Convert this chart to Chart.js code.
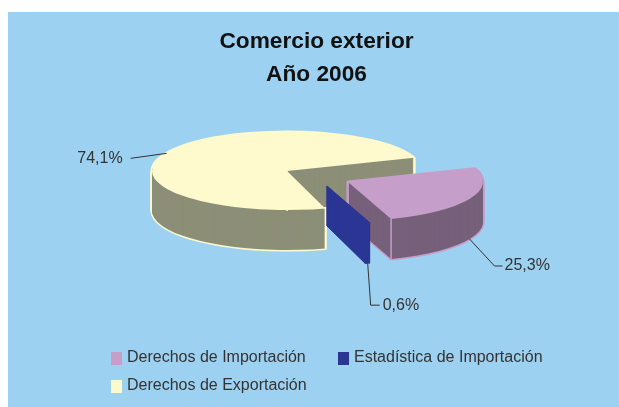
<!DOCTYPE html>
<html><head><meta charset="utf-8">
<style>html,body{margin:0;padding:0;background:#fff}canvas{display:block}</style>
<script src="https://cdn.jsdelivr.net/npm/chart.js@4"></script>
</head><body>
<canvas id="c" width="619" height="407"></canvas>
<script>
const titleLines = ['Comercio exterior', 'Año 2006'];
const categories = ['Derechos de Importación', 'Estadística de Importación', 'Derechos de Exportación'];
const shares = [25.3, 0.6, 74.1];
const shareLabels = ['25,3%', '0,6%', '74,1%'];
const topColors = ['#C59FC9', '#2B3594', '#FFFACD'];
const sideColors = ['#76607A', '#2B3594', '#8C8F77'];

const FONT = '"Liberation Sans", Arial, sans-serif';
const TEXT = '#333333';
const PIE = {cx: 287, cy: 171, rx: 135, ry: 39, depth: 40};
// per-slice draw settings, same order as categories
const shift = [{x: 61, y: 11}, {x: 40, y: 15}, {x: 0, y: 0}];
const drawOrder = [2, 0, 1];
const edgeColors = ['#C59FC9', '#2B3594', '#FFFACD'];
const edgeWidths = [3, 1, 3];
const leaders = [
  {down: true, elbow: [25, 27], run: 8, textGap: 2},
  {down: true, elbow: [3, 42], run: 9, textGap: 3},
  {down: false, elbow: [-36, 5], run: 0, textGap: 8}
];
const legendSlots = [{x: 111, y: 352}, {x: 338, y: 352}, {x: 111, y: 380}];

const pie3d = {
  id: 'pie3d',
  beforeDraw(chart) {
    const {ctx, width, height} = chart;
    ctx.save();
    ctx.fillStyle = '#9DD1F1';
    ctx.fillRect(8, 12, width - 8, height - 12);
    ctx.restore();
  },
  beforeDatasetsDraw(chart) {
    const {ctx} = chart;
    const arcs = chart.getDatasetMeta(0).data;
    const project = (arc, i, d) => {
      const sx = PIE.rx / arc.outerRadius, sy = PIE.ry / arc.outerRadius;
      ctx.setTransform(sx, 0, 0, sy,
        PIE.cx + shift[i].x - arc.x * sx,
        PIE.cy + shift[i].y + d - arc.y * sy);
    };
    const tracePath = (arc) => {
      ctx.beginPath();
      ctx.moveTo(arc.x, arc.y);
      ctx.arc(arc.x, arc.y, arc.outerRadius, arc.startAngle, arc.endAngle);
      ctx.closePath();
    };
    const rim = (arc, i, angle, d) => ({
      x: PIE.cx + shift[i].x + Math.cos(angle) * PIE.rx,
      y: PIE.cy + shift[i].y + Math.sin(angle) * PIE.ry + d
    });
    drawOrder.forEach((i) => {
      const arc = arcs[i];
      ctx.save();
      for (let d = PIE.depth; d >= 0; d--) {
        project(arc, i, d);
        tracePath(arc);
        ctx.setTransform(1, 0, 0, 1, 0, 0);
        ctx.strokeStyle = edgeColors[i];
        ctx.lineWidth = edgeWidths[i];
        ctx.lineJoin = 'round';
        ctx.stroke();
      }
      for (let d = PIE.depth; d >= 1; d--) {
        project(arc, i, d);
        tracePath(arc);
        ctx.fillStyle = sideColors[i];
        ctx.fill();
      }
      ctx.setTransform(1, 0, 0, 1, 0, 0);
      ctx.strokeStyle = edgeColors[i];
      ctx.lineWidth = 1.5;
      const apex = {x: PIE.cx + shift[i].x, y: PIE.cy + shift[i].y};
      const end = rim(arc, i, arc.endAngle, 0);
      [apex, end].forEach((p) => {
        ctx.beginPath();
        ctx.moveTo(p.x, p.y);
        ctx.lineTo(p.x, p.y + PIE.depth);
        ctx.stroke();
      });
      project(arc, i, 0);
      arc.draw(ctx);
      ctx.restore();
    });
    // leader lines and value labels
    ctx.save();
    ctx.setTransform(1, 0, 0, 1, 0, 0);
    ctx.font = '16px ' + FONT;
    ctx.fillStyle = TEXT;
    ctx.textBaseline = 'middle';
    arcs.forEach((arc, i) => {
      const mid = (arc.startAngle + arc.endAngle) / 2;
      const L = leaders[i];
      const a = rim(arc, i, mid, L.down ? PIE.depth : 0);
      const e = {x: a.x + L.elbow[0], y: a.y + L.elbow[1]};
      ctx.strokeStyle = '#333333';
      ctx.lineWidth = 1;
      ctx.beginPath();
      ctx.moveTo(a.x, a.y);
      ctx.lineTo(e.x, e.y);
      if (L.run) ctx.lineTo(e.x + L.run, e.y);
      ctx.stroke();
      if (L.elbow[0] < 0) {
        ctx.textAlign = 'right';
        ctx.fillText(shareLabels[i], e.x - L.textGap, e.y);
      } else {
        ctx.textAlign = 'left';
        ctx.fillText(shareLabels[i], e.x + L.run + L.textGap, e.y);
      }
    });
    // legend
    ctx.textAlign = 'left';
    categories.forEach((name, i) => {
      const s = legendSlots[i];
      ctx.fillStyle = topColors[i];
      ctx.fillRect(s.x, s.y, 11, 13);
      ctx.fillStyle = TEXT;
      ctx.fillText(name, s.x + 16, s.y + 5.5);
    });
    ctx.restore();
    return false;
  }
};

new Chart(document.getElementById('c'), {
  type: 'pie',
  data: {
    labels: categories,
    datasets: [{data: shares, backgroundColor: topColors, borderWidth: 0}]
  },
  options: {
    responsive: false,
    animation: false,
    rotation: 70.3,
    layout: {padding: {left: 14, top: 26}},
    events: [],
    plugins: {
      legend: {display: false},
      tooltip: {enabled: false},
      title: {
        display: true,
        text: titleLines,
        color: '#111111',
        padding: {top: 0, bottom: 6},
        font: {family: FONT, size: 22.7, weight: 'bold', lineHeight: 1.42}
      }
    }
  },
  plugins: [pie3d]
});
</script>
</body></html>
